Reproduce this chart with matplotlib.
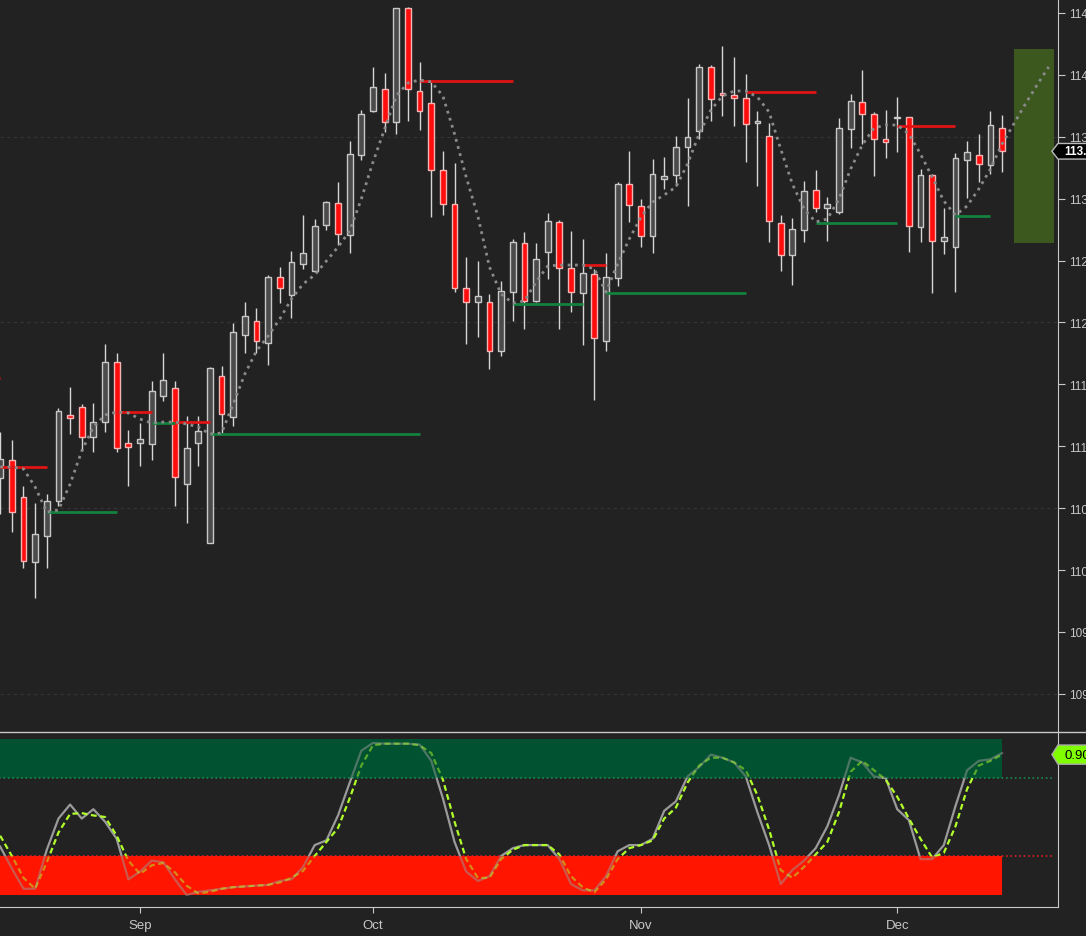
import numpy as np
import matplotlib
matplotlib.use("Agg")
import matplotlib.pyplot as plt
from matplotlib.patches import Rectangle, Polygon
from matplotlib.lines import Line2D

plt.rcParams['font.family'] = ['Liberation Sans', 'DejaVu Sans']

# daily candles (index 0 = mid August), prices
opens = [110.744, 110.892, 110.588, 110.063, 110.273, 110.556, 111.255, 111.315, 111.073, 111.194,
         111.678, 111.024, 111.024, 111.016, 111.409, 111.468, 110.693, 111.024, 110.216, 111.564,
         111.237, 111.901, 112.008, 111.838, 112.368, 112.225, 112.476, 112.418, 112.790, 112.968,
         112.709, 113.350, 113.706, 113.886, 113.617, 114.538, 113.867, 113.771, 113.229, 112.955,
         112.276, 112.163, 112.163, 111.767, 112.244, 112.640, 112.176, 112.572, 112.809, 112.438,
         112.236, 112.389, 111.853, 112.357, 113.116, 112.943, 112.696, 113.157, 113.191, 113.415,
         113.549, 114.061, 113.851, 113.835, 113.811, 113.609, 113.504, 112.801, 112.548, 112.750,
         113.068, 112.922, 112.895, 113.561, 113.779, 113.682, 113.480, 113.649, 113.657, 112.769,
         113.191, 112.661, 112.607, 113.310, 113.351, 113.270, 113.569]
highs = [111.116, 111.051, 110.677, 110.542, 110.612, 111.307, 111.477, 111.342, 111.350, 111.826,
         111.754, 111.132, 111.188, 111.525, 111.754, 111.525, 111.242, 111.242, 111.638, 111.649,
         111.993, 112.166, 112.115, 112.384, 112.449, 112.577, 112.868, 112.833, 112.981, 113.133,
         113.465, 113.716, 114.064, 114.015, 114.538, 114.548, 114.107, 113.940, 113.388, 113.288,
         112.531, 112.494, 112.228, 112.333, 112.674, 112.729, 112.642, 112.884, 112.830, 112.739,
         112.674, 112.432, 112.561, 113.132, 113.385, 112.998, 113.321, 113.334, 113.504, 113.811,
         114.088, 114.080, 114.231, 114.142, 114.007, 113.706, 113.609, 112.868, 112.842, 113.141,
         113.232, 113.016, 113.649, 113.846, 114.040, 113.700, 113.716, 113.824, 113.660, 113.240,
         113.200, 112.925, 113.367, 113.468, 113.523, 113.711, 113.676]
lows = [110.453, 110.310, 110.019, 109.772, 110.019, 110.520, 111.099, 110.962, 110.952, 111.118,
        110.952, 110.682, 110.843, 110.892, 111.368, 110.520, 110.378, 110.843, 110.216, 111.107,
        111.166, 111.757, 111.757, 111.657, 112.161, 112.037, 112.429, 112.406, 112.744, 112.628,
        112.565, 113.315, 113.698, 113.536, 113.525, 113.630, 113.557, 112.852, 112.871, 112.244,
        111.826, 111.880, 111.624, 111.732, 112.015, 111.947, 112.163, 112.351, 111.947, 112.087,
        111.818, 111.376, 111.772, 112.297, 112.809, 112.607, 112.561, 113.078, 113.105, 112.943,
        113.482, 113.630, 113.666, 113.585, 113.299, 113.100, 112.648, 112.418, 112.303, 112.648,
        112.890, 112.661, 112.879, 113.412, 113.442, 113.186, 113.331, 113.380, 112.572, 112.653,
        112.236, 112.553, 112.244, 113.008, 113.132, 113.199, 113.213]
closes = [110.897, 110.467, 110.071, 110.289, 110.556, 111.283, 111.226, 111.073, 111.194, 111.678,
          110.984, 110.992, 111.057, 111.444, 111.533, 110.750, 110.984, 111.121, 111.630, 111.258,
          111.927, 112.052, 111.850, 112.368, 112.282, 112.487, 112.559, 112.779, 112.974, 112.712,
          113.361, 113.684, 113.900, 113.617, 114.538, 113.884, 113.706, 113.229, 112.955, 112.276,
          112.163, 112.212, 111.767, 112.252, 112.648, 112.176, 112.510, 112.820, 112.438, 112.244,
          112.397, 111.872, 112.365, 113.116, 112.949, 112.696, 113.197, 113.186, 113.415, 113.496,
          114.061, 113.803, 113.835, 113.811, 113.606, 113.625, 112.817, 112.548, 112.755, 113.060,
          112.922, 112.955, 113.569, 113.787, 113.682, 113.480, 113.456, 113.654, 112.777, 113.191,
          112.661, 112.688, 113.329, 113.375, 113.278, 113.593, 113.383]

# smoothed average (dotted), runs 4 bars past the last candle
ma = [110.833, 110.833, 110.817, 110.671, 110.469, 110.485, 110.695, 110.962, 111.156, 111.253,
      111.277, 111.269, 111.220, 111.188, 111.196, 111.196, 111.180, 111.156, 111.099, 111.107,
      111.342, 111.584, 111.770, 111.891, 112.028, 112.190, 112.311, 112.384, 112.497, 112.610,
      112.739, 112.998, 113.296, 113.563, 113.830, 113.935, 113.959, 113.943, 113.830, 113.523,
      113.175, 112.860, 112.448, 112.230, 112.157, 112.174, 112.327, 112.456, 112.464, 112.464,
      112.464, 112.432, 112.246, 112.473, 112.674, 112.852, 112.973, 113.030, 113.094, 113.280,
      113.523, 113.716, 113.830, 113.870, 113.870, 113.821, 113.700, 113.401, 113.119, 112.917,
      112.812, 112.836, 112.998, 113.240, 113.434, 113.571, 113.595, 113.595, 113.523, 113.361,
      113.175, 112.981, 112.868, 112.941, 113.078, 113.240, 113.442, 113.603, 113.765, 113.918,
      114.064]

# swing levels: start bar, end bar, price, high/low
lvl_start = [-1, 0, 4, 10, 13, 15, 18, 36, 44, 50, 52, 64, 70, 77, 82]
lvl_end = [0, 4, 10, 13, 15, 18, 36, 44, 50, 52, 64, 70, 77, 82, 85]
lvl_price = [111.552, 110.829, 110.469, 111.277, 111.188, 111.196, 111.099, 113.951, 112.149,
             112.464, 112.238, 113.864, 112.804, 113.587, 112.860]
lvl_kind = ['hi', 'hi', 'lo', 'hi', 'lo', 'hi', 'lo', 'hi', 'lo', 'hi', 'lo', 'hi', 'lo', 'hi', 'lo']

# projection box
proj_x = [87.0, 90.5]
proj_y = [112.642, 114.209]

# stochastic
stoch_k = [0.31, 0.17, 0.04, 0.04, 0.29, 0.49, 0.58, 0.49, 0.55, 0.47,
           0.36, 0.10, 0.15, 0.22, 0.21, 0.10, 0.00, 0.02, 0.03, 0.04,
           0.05, 0.055, 0.06, 0.065, 0.09, 0.10, 0.18, 0.32, 0.35, 0.51,
           0.72, 0.925, 0.975, 0.97, 0.97, 0.97, 0.965, 0.86, 0.62, 0.34,
           0.15, 0.09, 0.12, 0.25, 0.30, 0.32, 0.32, 0.32, 0.23, 0.07,
           0.03, 0.03, 0.12, 0.28, 0.32, 0.32, 0.36, 0.54, 0.60, 0.76,
           0.82, 0.90, 0.88, 0.85, 0.76, 0.53, 0.32, 0.07, 0.16, 0.22,
           0.30, 0.44, 0.64, 0.88, 0.85, 0.76, 0.75, 0.55, 0.48, 0.23,
           0.23, 0.32, 0.57, 0.80, 0.86, 0.87, 0.91]
stoch_d = [0.38, 0.25, 0.11, 0.04, 0.21, 0.40, 0.52, 0.525, 0.51, 0.50,
           0.38, 0.22, 0.135, 0.19, 0.205, 0.145, 0.06, 0.01, 0.02, 0.04,
           0.05, 0.055, 0.06, 0.065, 0.08, 0.11, 0.155, 0.25, 0.34, 0.43,
           0.62, 0.83, 0.96, 0.97, 0.97, 0.97, 0.96, 0.91, 0.74, 0.47,
           0.23, 0.11, 0.11, 0.23, 0.29, 0.32, 0.32, 0.32, 0.26, 0.12,
           0.05, 0.017, 0.10, 0.23, 0.30, 0.32, 0.35, 0.49, 0.56, 0.72,
           0.83, 0.88, 0.88, 0.85, 0.80, 0.64, 0.42, 0.16, 0.11, 0.18,
           0.26, 0.34, 0.53, 0.79, 0.86, 0.80, 0.74, 0.63, 0.49, 0.36,
           0.24, 0.27, 0.44, 0.68, 0.83, 0.86, 0.90]
ob_level, os_level = 0.75, 0.25

month_pos = [12, 32, 55, 77]
month_lbl = ['Sep', 'Oct', 'Nov', 'Dec']

BG = '#222222'
FG = '#c8c8c8'

fig = plt.figure(figsize=(10.86, 9.37), dpi=100, facecolor=BG)
ax = fig.add_axes([0, 0.2177, 0.9742, 0.7823], facecolor=BG)
ax2 = fig.add_axes([0, 0.03095, 0.9742, 0.18677], facecolor=BG)
XL = (-0.017, 90.80)

# ---- price panel ----
n = len(opens)
x = np.arange(n)
o, h, l, c = map(np.array, (opens, highs, lows, closes))
up = c >= o

for g in [109.0, 110.5, 112.0, 113.5]:
    ax.axhline(g, color='#353535', lw=0.8, ls=(0, (3, 3)), zorder=0)

ax.add_patch(Rectangle((proj_x[0], proj_y[0]), proj_x[1] - proj_x[0], proj_y[1] - proj_y[0],
                       facecolor='#3c581f', edgecolor='none', zorder=1))

ax.vlines(x, l, h, color='#d6d6d6', lw=1, zorder=2)
body_lo = np.minimum(o, c)
body_h = np.maximum(np.abs(c - o), 0.012)
ax.bar(x[up], body_h[up], bottom=body_lo[up], width=0.5, color='#4b4b4b',
       edgecolor='#c8c8c8', linewidth=1, zorder=3)
ax.bar(x[~up], body_h[~up], bottom=body_lo[~up], width=0.5, color='#ff0d0d',
       edgecolor='#f4b4b4', linewidth=1, zorder=3)

for s, e, p, k in zip(lvl_start, lvl_end, lvl_price, lvl_kind):
    ax.hlines(p, s, e, color='#e01414' if k == 'hi' else '#13813f', lw=2, zorder=4)

ax.plot(np.arange(len(ma)), ma, color='#8a8a8a', lw=2, ls=':', zorder=5)

ax.set_xlim(*XL)
ax.set_ylim(108.692, 114.613)
for sp in ['left', 'top', 'bottom']:
    ax.spines[sp].set_visible(False)
ax.spines['right'].set_color(FG)
ax.yaxis.tick_right()
ax.set_yticks(np.arange(109.0, 114.51, 0.5))
ax.set_yticklabels([f'{v:.2f}' for v in np.arange(109.0, 114.51, 0.5)])
ax.tick_params(axis='y', colors=FG, labelsize=8.5, length=5, pad=3)
ax.set_xticks([])

# last price tag
lp = closes[-1]
hh = 0.063
tag = Polygon([(90.28, lp), (90.80, lp + hh), (93.6, lp + hh), (93.6, lp - hh), (90.80, lp - hh)],
              closed=True, facecolor='#000000', edgecolor='#bbbbbb', lw=1, clip_on=False, zorder=6)
ax.add_patch(tag)
ax.text(91.3, lp, f'{lp:.2f}', color='white', fontsize=8.5, fontweight='bold',
        va='center', ha='left', clip_on=False, zorder=7)

# ---- stochastic panel ----
ax2.add_patch(Rectangle((-1, ob_level), 87, 1 - ob_level, facecolor='#005230', edgecolor='none', zorder=0))
ax2.add_patch(Rectangle((-1, 0), 87, os_level, facecolor='#ff1500', edgecolor='none', zorder=0))
ax2.hlines(ob_level, -1, 90.5, color='#1a8a52', lw=1.2, ls=':', zorder=1)
ax2.hlines(os_level, -1, 90.5, color='#e02020', lw=1.2, ls=':', zorder=1)

xs = np.arange(len(stoch_k))
clips = [((-2, os_level), ob_level - os_level, 1.0),
         ((-2, -1), 1 + os_level, 0.5),
         ((-2, ob_level), 2, 0.5)]
for (xy, hgt, alpha) in clips:
    cp = Rectangle(xy, 100, hgt, transform=ax2.transData, facecolor='none', edgecolor='none')
    ln1, = ax2.plot(xs, stoch_k, color='#9a9a9a', lw=1.6, alpha=alpha, zorder=2)
    ln2, = ax2.plot(xs, stoch_d, color='#b0ff2a', lw=1.6, ls=(0, (2.6, 1.6)), alpha=alpha, zorder=3)
    ln1.set_clip_path(cp)
    ln2.set_clip_path(cp)

ax2.set_xlim(*XL)
ax2.set_ylim(-0.077, 1.045)
ax2.spines['left'].set_visible(False)
ax2.spines['top'].set_visible(False)
ax2.spines['right'].set_color(FG)
ax2.spines['bottom'].set_color(FG)
ax2.set_yticks([])
ax2.set_xticks(month_pos)
ax2.set_xticklabels(month_lbl)
ax2.tick_params(axis='x', colors=FG, labelsize=9.5, length=4, pad=5)

sv = stoch_d[-1]
hv = 0.0615
tag2 = Polygon([(90.28, sv), (90.80, sv + hv), (93.6, sv + hv), (93.6, sv - hv), (90.80, sv - hv)],
               closed=True, facecolor='#80ff00', edgecolor='#aaaaaa', lw=1, clip_on=False, zorder=6)
ax2.add_patch(tag2)
ax2.text(91.35, sv, f'{sv:.2f}', color='black', fontsize=9.5, va='center', ha='left',
         clip_on=False, zorder=7)

# separator between panels runs across the full width
fig.add_artist(Line2D([0, 1], [0.2177, 0.2177], transform=fig.transFigure, color=FG, lw=1))

fig.savefig('out.png', dpi=100, facecolor=BG)
